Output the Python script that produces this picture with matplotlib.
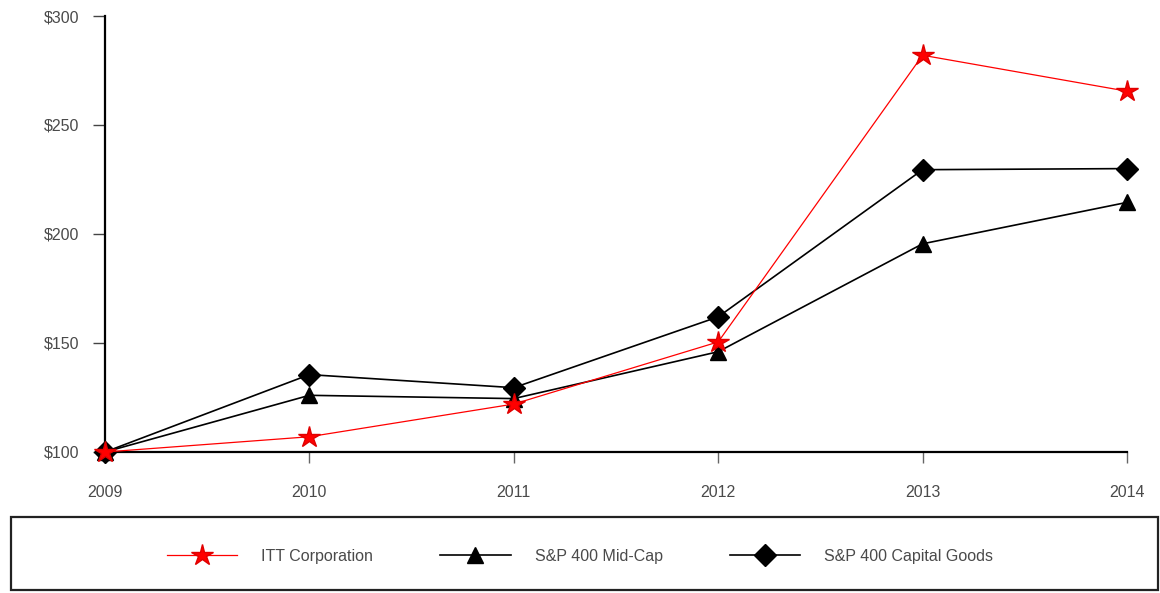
import matplotlib
matplotlib.use("Agg")
import matplotlib.ticker
from matplotlib import pyplot as plt
from matplotlib.patches import Rectangle

plt.rcParams['font.family'] = ['Liberation Sans', 'DejaVu Sans']

years = [2009, 2010, 2011, 2012, 2013, 2014]
itt = [100, 107, 122, 150.5, 282, 265.5]
midcap = [100, 126, 124.5, 146, 195.5, 214.5]
capgoods = [100, 135.5, 129.5, 162, 229.5, 230]
y_ticks = [100, 150, 200, 250, 300]

text_color = '#4a4a4a'
W, H = 1160, 593

fig = plt.figure(figsize=(W / 100, H / 100), dpi=100)
ax = fig.add_axes([105 / W, 1 - 452 / H, (1127 - 105) / W, (452 - 16) / H])

ax.plot(years, itt, color='#ff0000', lw=0.9, marker='*', ms=16, mec='#e00000', mfc='#ff0000',
		label='ITT Corporation', zorder=4, clip_on=False)
ax.plot(years, midcap, color='black', lw=1.2, marker='^', ms=11,
		label='S&P 400 Mid-Cap', zorder=3, clip_on=False)
ax.plot(years, capgoods, color='black', lw=1.2, marker='D', ms=11,
		label='S&P 400 Capital Goods', zorder=3, clip_on=False)

ax.set_xlim(years[0], years[-1])
ax.set_ylim(100, 300)
ax.set_xticks(years)
ax.set_yticks(y_ticks)
ax.yaxis.set_major_formatter(matplotlib.ticker.FuncFormatter(lambda v, _: f'${v:.0f}'))

for side in ('top', 'right'):
	ax.spines[side].set_visible(False)
for side in ('left', 'bottom'):
	ax.spines[side].set_linewidth(1.6)

ax.tick_params(axis='y', length=8.5, width=1, color='#444444', pad=10, labelsize=11.5, labelcolor=text_color)
ax.tick_params(axis='x', length=8, width=1, color='#666666', pad=16, labelsize=11.5, labelcolor=text_color)

# legend box along the bottom (pixels 11..1158 x 517..590)
fig.patches.append(Rectangle((11 / W, 3 / H), 1147 / W, 73 / H,
							 transform=fig.transFigure, fill=False, lw=1.6, ec='#222222'))

handles, labels = ax.get_legend_handles_labels()
leg = fig.legend(handles, labels, loc='center', bbox_to_anchor=(0.5, 1 - 556 / H), ncol=3, frameon=False,
				 fontsize=11.5, handlelength=4.4, handletextpad=1.5, columnspacing=4.2)
for t in leg.get_texts():
	t.set_color(text_color)

fig.savefig('out.png', dpi=100)
